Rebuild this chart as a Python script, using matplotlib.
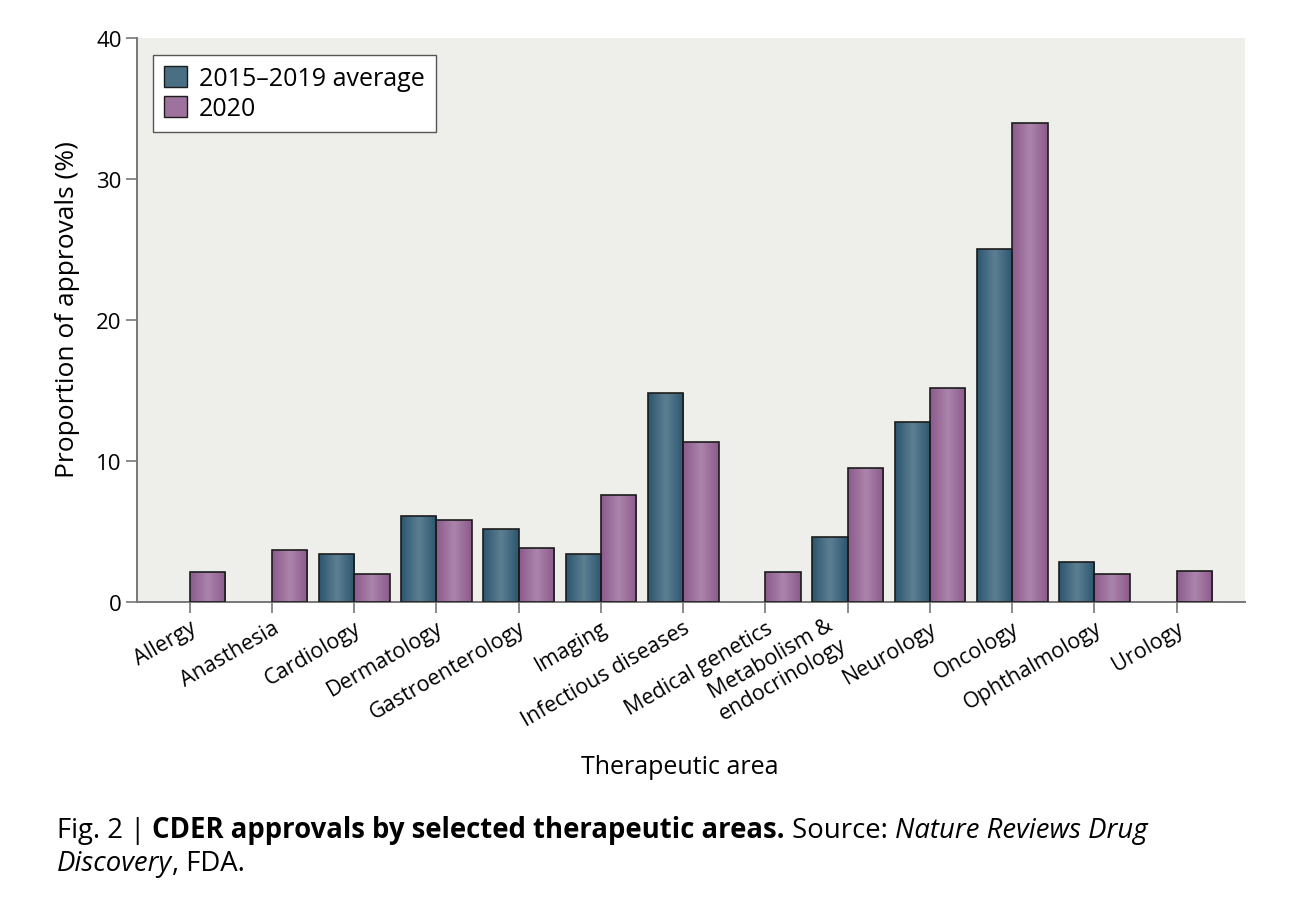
import numpy as np
import matplotlib
matplotlib.use("Agg")
import matplotlib.pyplot as plt
import matplotlib.patches as mpatches
import matplotlib.transforms as mtransforms
from matplotlib.colors import LinearSegmentedColormap

plt.rcParams["font.family"] = ["Open Sans", "DejaVu Sans"]

areas = ["Allergy", "Anasthesia", "Cardiology", "Dermatology", "Gastroenterology",
         "Imaging", "Infectious diseases", "Medical genetics",
         "Metabolism &\nendocrinology", "Neurology", "Oncology", "Ophthalmology",
         "Urology"]
avg_2015_2019 = [0, 0, 3.4, 6.1, 5.2, 3.4, 14.8, 0, 4.6, 12.8, 25.0, 2.85, 0]
y2020 = [2.1, 3.7, 2.0, 5.8, 3.8, 7.6, 11.35, 2.1, 9.5, 15.2, 34.0, 2.0, 2.2]
series_labels = ["2015\u20132019 average", "2020"]
yticks = [0, 10, 20, 30, 40]

C_AVG_EDGE, C_AVG_MID = "#2b566f", "#5e7f92"
C_NEW_EDGE, C_NEW_MID = "#8c5a8c", "#ab85ab"
BG = "#eeeeea"
AXIS_GREY = "#777777"


def gradient_fill(ax, bars, c_edge, c_mid):
    cmap = LinearSegmentedColormap.from_list("g", [c_edge, c_mid, c_edge])
    grad = np.linspace(0, 1, 64).reshape(1, -1)
    for b in bars:
        h = b.get_height()
        if h <= 0:
            continue
        x, w = b.get_x(), b.get_width()
        im = ax.imshow(grad, cmap=cmap, aspect="auto", extent=(x, x + w, 0, h),
                       zorder=2, interpolation="bicubic")
        im.set_clip_path(b)


fig = plt.figure(figsize=(12.94, 9.2), dpi=100)
ax = fig.add_axes([0.1059, 0.3446, 0.8562, 0.613])
ax.set_facecolor(BG)

x = np.arange(len(areas))
w = 0.43
bars_a = ax.bar(x - w / 2, avg_2015_2019, width=w, facecolor="none",
                edgecolor="#1c1c1c", linewidth=1.2, zorder=3)
bars_b = ax.bar(x + w / 2, y2020, width=w, facecolor="none",
                edgecolor="#1c1c1c", linewidth=1.2, zorder=3)
for b, v in zip(bars_a, avg_2015_2019):
    if v == 0:
        b.set_visible(False)
gradient_fill(ax, bars_a, C_AVG_EDGE, C_AVG_MID)
gradient_fill(ax, bars_b, C_NEW_EDGE, C_NEW_MID)

ax.set_xlim(-0.64, 12.83)
ax.set_ylim(0, 40)
ax.set_yticks(yticks)
ax.set_yticklabels([str(t) for t in yticks], fontsize=16)
ax.set_xticks(x)
ax.set_xticklabels(areas, rotation=30, ha="right", rotation_mode="anchor",
                   fontsize=15.5, multialignment="center")
ax.tick_params(axis="both", direction="out", length=8, width=1.2,
               color=AXIS_GREY)
ax.tick_params(axis="x", pad=3)
ax.tick_params(axis="y", pad=3)

# the two-line label sits a little further left in the original
for lab in ax.get_xticklabels():
    if "\n" in lab.get_text():
        lab.set_transform(lab.get_transform() +
                          mtransforms.ScaledTranslation(-0.2, 0.04, fig.dpi_scale_trans))

for s in ["top", "right"]:
    ax.spines[s].set_visible(False)
for s in ["left", "bottom"]:
    ax.spines[s].set_color(AXIS_GREY)
    ax.spines[s].set_linewidth(1.4)

ax.set_ylabel("Proportion of approvals (%)", fontsize=19, va="center")
ax.yaxis.set_label_coords(-0.063, 0.521)
ax.set_xlabel("Therapeutic area", fontsize=18, va="center")
ax.xaxis.set_label_coords(0.49, -0.2926)

handles = [mpatches.Patch(facecolor="#4a6f84", edgecolor="#1c1c1c", label=series_labels[0]),
           mpatches.Patch(facecolor="#9d739d", edgecolor="#1c1c1c", label=series_labels[1])]
leg = ax.legend(handles=handles, loc="upper left", bbox_to_anchor=(0.0144, 0.970),
                borderaxespad=0, fontsize=18, fancybox=False, framealpha=1,
                edgecolor="#555555", handlelength=0.9, handleheight=0.9,
                handletextpad=0.5, borderpad=0.45, labelspacing=0.2)
leg.get_frame().set_linewidth(1.0)

# caption, assembled piece by piece
fig.canvas.draw()
renderer = fig.canvas.get_renderer()
cap_size = 19.8


def put_pieces(pieces, x0, y0):
    xc = x0
    for txt, weight, style in pieces:
        t = fig.text(xc, y0, txt, fontsize=cap_size, fontweight=weight,
                     fontstyle=style, va="baseline", ha="left")
        bb = t.get_window_extent(renderer)
        xc += bb.width / fig.bbox.width


put_pieces([("Fig. 2 | ", "normal", "normal"),
            ("CDER approvals by selected therapeutic areas.", "bold", "normal"),
            (" Source: ", "normal", "normal"),
            ("Nature Reviews Drug", "normal", "italic")],
           57 / 1294, 1 - 838 / 920)
put_pieces([("Discovery", "normal", "italic"),
            (", FDA.", "normal", "normal")],
           57 / 1294, 1 - 871 / 920)

fig.savefig("out.png", dpi=100)
